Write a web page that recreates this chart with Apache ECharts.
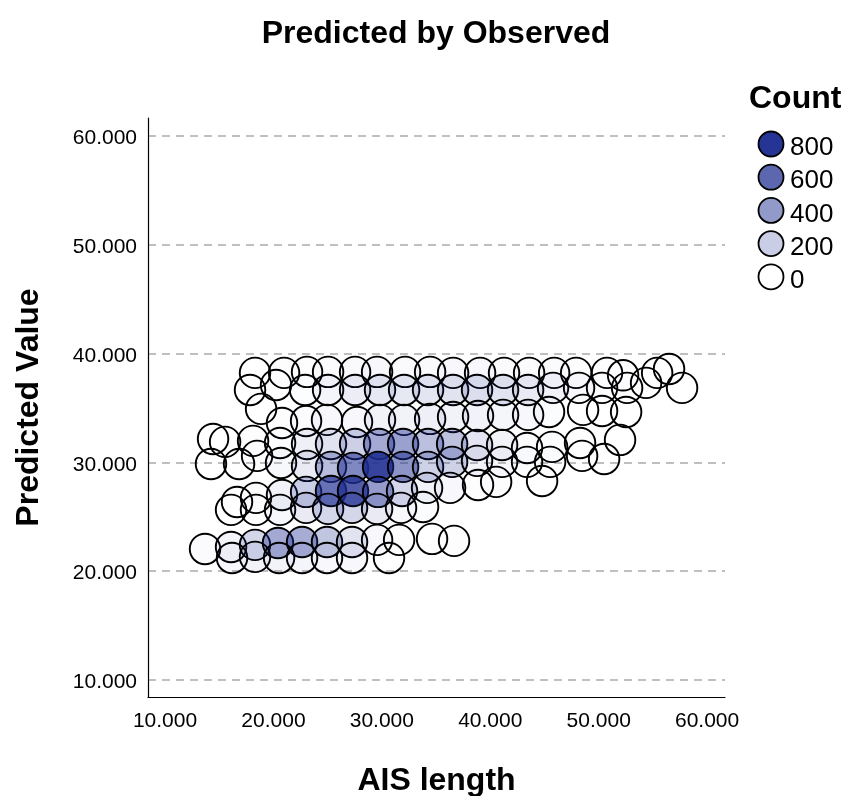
<!DOCTYPE html>
<html><head><meta charset="utf-8">
<style>html,body{margin:0;padding:0;background:#fff}#c{width:848px;height:796px}</style>
<script src="https://cdn.jsdelivr.net/npm/echarts@6/dist/echarts.min.js"></script>
</head><body><div id="c"></div>
<script>
const tickValues = [10, 20, 30, 40, 50, 60];
const legendCounts = [800, 600, 400, 200, 0];
const observed = [
 18.3,20.98,23.1,25.04,27.53,29.56,32.14,34.45,36.57,39.06,41.27,43.58,45.89,47.92,50.77,52.25,55.39,56.49,
 17.84,20.24,22.92,25.04,27.53,29.83,32.05,34.26,36.57,38.78,41.18,43.49,45.79,48.19,50.31,52.62,54.37,57.69,
 18.86,20.79,23.01,24.94,27.71,29.83,32.05,34.45,36.57,38.87,41.18,43.49,45.42,48.56,50.31,52.53,
 14.43,15.54,18.12,20.61,23.1,25.31,27.53,29.74,31.96,34.26,36.48,38.78,41.09,43.39,45.7,48.28,51.97,
 14.24,16.83,18.49,20.7,23.1,25.31,27.34,29.65,31.96,34.26,36.48,38.78,41.09,43.39,45.52,48.47,50.5,
 16.64,18.39,20.79,23.01,25.31,27.34,29.65,31.86,34.17,36.29,38.87,40.54,44.78,
 16.09,18.39,20.61,23.01,25.04,27.25,29.56,31.77,33.8,
 13.69,16.09,18.3,20.42,22.64,24.94,27.25,29.56,31.59,34.63,36.66,
 16.18,18.3,20.52,22.64,24.94,27.25,30.66
];
const predicted = [
 38.22,38.22,38.31,38.31,38.31,38.31,38.31,38.31,38.22,38.22,38.22,38.22,38.22,38.22,38.22,38.0,38.22,38.58,
 36.65,37.11,36.65,36.65,36.65,36.65,36.65,36.65,36.65,36.65,36.65,36.65,36.84,36.84,36.84,36.84,37.3,36.84,
 34.91,33.62,33.8,33.9,33.71,33.9,33.9,33.99,34.17,34.26,34.36,34.36,34.63,34.82,34.72,34.63,
 32.15,31.88,31.97,31.78,31.69,31.69,31.69,31.69,31.69,31.69,31.69,31.6,31.6,31.32,31.42,31.78,32.06,
 29.85,29.85,30.59,29.94,29.67,29.58,29.49,29.58,29.58,29.58,30.04,30.13,30.04,30.04,30.04,30.59,30.31,
 26.36,26.73,27.0,27.28,27.37,27.37,27.28,27.37,27.65,27.65,27.92,28.2,28.29,
 25.63,25.63,25.63,25.81,25.72,25.81,25.72,25.81,25.9,
 22.04,22.22,22.41,22.59,22.68,22.68,22.68,22.87,22.87,22.96,22.78,
 21.21,21.31,21.21,21.21,21.21,21.21,21.21
];
const counts = [
 0,5,8,15,20,25,20,20,25,25,20,15,15,8,4,3,1,1,
 0,4,10,40,70,90,90,100,110,130,110,80,50,25,10,5,1,1,
 0,5,15,25,25,50,50,60,50,50,35,25,12,1,1,1,
 1,1,5,10,60,110,190,340,370,250,240,100,50,15,10,5,1,
 1,3,5,30,80,260,470,740,420,180,180,50,25,10,5,1,1,
 1,5,50,200,560,640,390,160,50,25,8,5,1,
 1,5,30,80,160,160,80,25,12,
 15,40,160,340,330,230,110,25,8,1,5,
 25,50,50,40,25,25,1
];
const points = observed.map((x, i) => [x, predicted[i], counts[i]]);
const fill = c => 'rgba(30,45,145,' + Math.min(c / 830, 1) + ')';
const font = '"Liberation Sans", Arial, sans-serif';

const legendGraphics = [{
  type: 'text', left: 749, top: 83, silent: true,
  style: { text: 'Count', font: 'bold 32px ' + font, fill: '#000' }
}];
legendCounts.forEach((c, i) => {
  const cy = 144 + i * 33.2;
  legendGraphics.push({
    type: 'circle', silent: true, shape: { cx: 771, cy: cy, r: 12.5 },
    style: { fill: fill(c), stroke: '#000', lineWidth: 1.8 }
  });
  legendGraphics.push({
    type: 'text', silent: true, left: 790, top: cy - 9,
    style: { text: String(c), font: '26px ' + font, fill: '#000' }
  });
});

const axisCommon = {
  type: 'value', min: 8.43, max: 61.65, nameLocation: 'middle',
  nameTextStyle: { fontFamily: font, fontSize: 32, fontWeight: 'bold', color: '#000' },
  axisLine: { show: true, lineStyle: { color: '#000', width: 1.2 } },
  axisTick: { show: false, customValues: tickValues },
  axisLabel: { customValues: tickValues, fontFamily: font, fontSize: 21, color: '#000',
    formatter: v => v.toFixed(3), showMinLabel: true, showMaxLabel: true }
};
const chart = echarts.init(document.getElementById('c'), null, { renderer: 'canvas' });
chart.setOption({
  animation: false,
  backgroundColor: '#fff',
  title: { text: 'Predicted by Observed', left: 431, top: 13, textAlign: 'center',
    textStyle: { fontFamily: font, fontSize: 32, fontWeight: 'bold', color: '#000' } },
  grid: { left: 148, right: 123, top: 118, bottom: 99, outerBoundsMode: 'none' },
  xAxis: Object.assign({}, axisCommon, { name: 'AIS length', nameGap: 68, splitLine: { show: false },
    axisLabel: Object.assign({}, axisCommon.axisLabel, { margin: 14 }) }),
  yAxis: Object.assign({}, axisCommon, { name: 'Predicted Value', nameGap: 103,
    axisLabel: Object.assign({}, axisCommon.axisLabel, { margin: 11,
      formatter: v => '{a|' + v.toFixed(3) + '}',
      rich: { a: { fontFamily: font, fontSize: 21, color: '#000', padding: [5, 0, 0, 0] } } }),
    splitLine: { show: true, lineStyle: { color: '#aaaaaa', type: [8, 6], width: 1.6 } } }),
  series: [{
    type: 'scatter', data: points, symbol: 'circle', symbolSize: 30.5, silent: true, z: 5,
    itemStyle: { color: p => fill(p.value[2]), borderColor: '#000', borderWidth: 1.9, opacity: 1 }
  }],
  graphic: legendGraphics
});
</script></body></html>
